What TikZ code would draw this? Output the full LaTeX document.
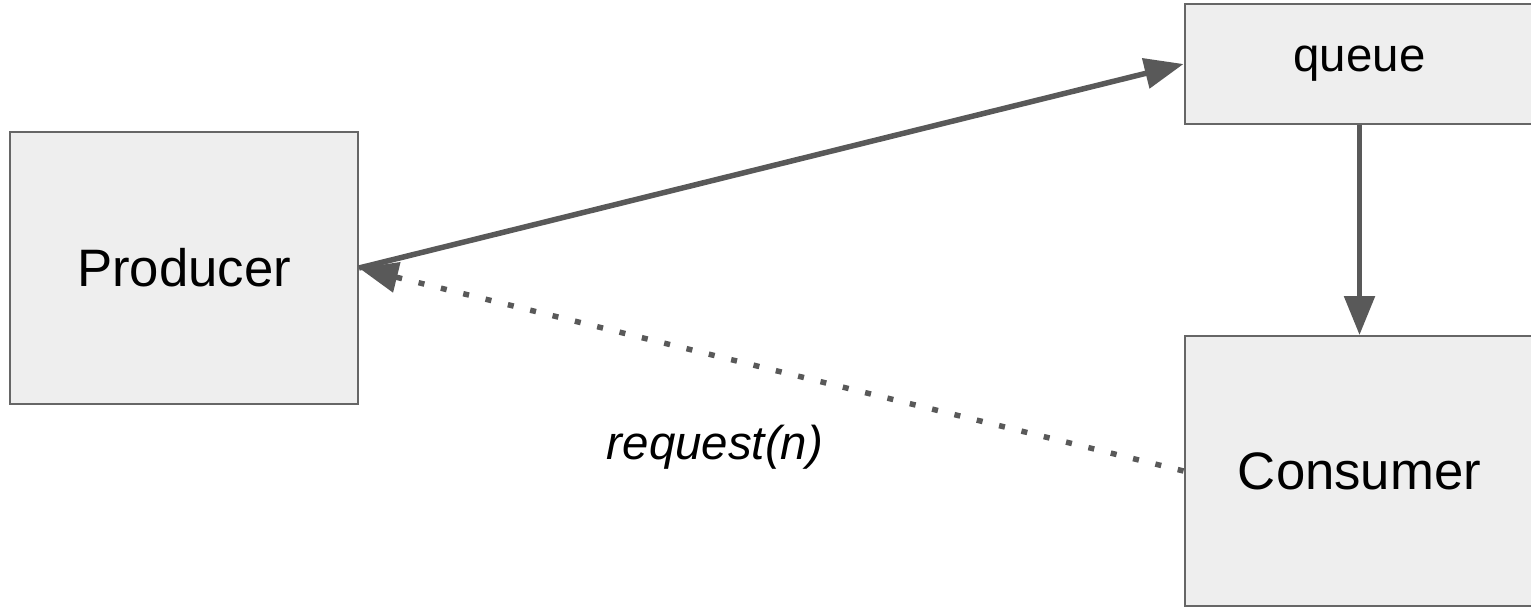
\documentclass[tikz,border=0pt]{standalone}
\usepackage{fontspec}
\setmainfont{Liberation Sans}
\usetikzlibrary{arrows.meta}
\definecolor{boxfill}{HTML}{EEEEEE}
\definecolor{boxline}{HTML}{666666}
\definecolor{arrowgray}{HTML}{595959}

\begin{document}
\begin{tikzpicture}[
    x=0.02cm, y=-0.02cm,
    blk/.style={draw=boxline, fill=boxfill, line width=0.04cm, inner sep=0pt,
                minimum width=6.96cm, font=\fontsize{30}{36}\selectfont},
    fl/.style={-{Triangle[length=0.78cm, width=0.6cm]}, arrowgray,
               line width=0.11cm},
    dl/.style={fl, line cap=butt, dash pattern=on 0.12cm off 0.34cm}
]
  \useasboundingbox (0,0) rectangle (1531,609);

  % ================= boxes =================
  \node[blk, minimum height=5.44cm] (producer) at (184,268) {Producer};
  \node[blk, minimum height=2.4cm, minimum width=7.0cm,
        font=\fontsize{27}{32}\selectfont]
       (queue) at (1359.5,64) {queue};
  \node[blk, minimum height=5.4cm, minimum width=7.0cm]
       (consumer) at (1359.5,471) {Consumer};

  % ================= connectors =================
  \draw[fl] (producer.east) -- (queue.west);
  \draw[fl] (queue.south) -- (consumer.north);
  \draw[dl] (consumer.west) -- (producer.east);

  % label of the request line
  \node[font=\fontsize{27}{32}\selectfont\itshape] (req) at (715,447) {request(n)};

\end{tikzpicture}
\end{document}
